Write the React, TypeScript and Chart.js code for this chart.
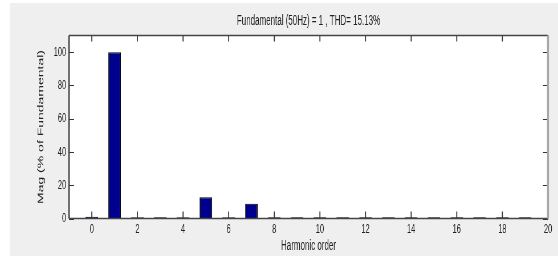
import React, { useEffect, useRef } from "react";
import { Chart, registerables } from "chart.js";

Chart.register(...registerables);

const harmonicOrders = [0, 1, 2, 3, 4, 5, 6, 7, 8, 9, 10, 11, 12, 13, 14, 15, 16, 17, 18, 19];
const magnitudes = [1.0, 100, 0.8, 0.7, 0.8, 12.8, 0.8, 8.8, 0.7, 0.7, 0.7, 0.7, 0.7, 0.7, 0.7, 0.7, 0.7, 0.7, 0.7, 0.7];
const xTickValues = [0, 2, 4, 6, 8, 10, 12, 14, 16, 18, 20];
const yTickValues = [0, 20, 40, 60, 80, 100];
const titleText = "Fundamental (50Hz) = 1 , THD= 15.13%";
const xTitle = "Harmonic order";
const yTitle = "Mag (% of Fundamental)";

// The reference picture is horizontally squeezed; draw wide and compress.
const SX = 0.57;
const W = 558;
const H = 256;
const IW = Math.round(W / SX);
const FONT = "'Liberation Sans', Arial, sans-serif";

const framePlugin = {
  id: "frame",
  beforeDraw(chart: any) {
    const { ctx, chartArea: a, width, height } = chart;
    ctx.save();
    ctx.fillStyle = "#ffffff";
    ctx.fillRect(0, 0, width, height);
    ctx.fillStyle = "#efefef";
    ctx.fillRect(10 / SX, 3, width - 10 / SX, height - 3);
    ctx.fillStyle = "#ffffff";
    ctx.fillRect(a.left, a.top, a.right - a.left, a.bottom - a.top);
    ctx.restore();
  },
  afterDraw(chart: any) {
    const { ctx, chartArea: a } = chart;
    const xs = chart.scales.x;
    const ys = chart.scales.y;
    ctx.save();
    ctx.strokeStyle = "#333333";
    // x ticks (vertical strokes)
    ctx.lineWidth = 1 / SX;
    ctx.beginPath();
    xTickValues.forEach((v) => {
      const px = xs.getPixelForValue(v);
      ctx.moveTo(px, a.bottom);
      ctx.lineTo(px, a.bottom - 7);
      ctx.moveTo(px, a.top);
      ctx.lineTo(px, a.top + 6);
    });
    ctx.stroke();
    // y ticks (horizontal strokes)
    ctx.lineWidth = 1.2;
    ctx.beginPath();
    yTickValues.forEach((v) => {
      const py = Math.round(ys.getPixelForValue(v)) + 0.5;
      ctx.moveTo(a.left, py);
      ctx.lineTo(a.left + 5 / SX, py);
      ctx.moveTo(a.right, py);
      ctx.lineTo(a.right - 5 / SX, py);
    });
    ctx.stroke();
    // frame
    ctx.strokeStyle = "#444444";
    ctx.lineWidth = 1.5;
    ctx.beginPath();
    ctx.moveTo(a.left, a.top);
    ctx.lineTo(a.right, a.top);
    ctx.moveTo(a.left, a.bottom);
    ctx.lineTo(a.right, a.bottom);
    ctx.stroke();
    ctx.lineWidth = 1.5 / SX;
    ctx.beginPath();
    ctx.moveTo(a.left, a.bottom);
    ctx.lineTo(a.left, a.top);
    ctx.stroke();
    ctx.strokeStyle = "#a8a8a8";
    ctx.lineWidth = 2 / SX;
    ctx.beginPath();
    ctx.moveTo(a.right, a.top);
    ctx.lineTo(a.right, a.bottom);
    ctx.stroke();
    // title
    ctx.fillStyle = "#222222";
    ctx.font = "14px " + FONT;
    ctx.textAlign = "center";
    ctx.textBaseline = "middle";
    ctx.fillText(titleText, (a.left + a.right) / 2, 21.5);
    ctx.restore();
  },
};

export default function App() {
  const ref = useRef<HTMLCanvasElement | null>(null);
  useEffect(() => {
    if (!ref.current) return;
    const chart = new Chart(ref.current, {
      type: "bar",
      data: {
        datasets: [
          {
            data: harmonicOrders.map((h, i) => ({ x: h, y: magnitudes[i] })),
            backgroundColor: "#00008f",
            borderColor: "#000000",
            borderWidth: { top: 1, left: 1 / SX, right: 1 / SX, bottom: 0 },
            borderSkipped: "start",
            barPercentage: 0.55,
            categoryPercentage: 1,
          },
        ],
      },
      options: {
        animation: false,
        responsive: false,
        devicePixelRatio: 1,
        layout: { padding: { left: 0, top: 35.5, right: IW - 548 / SX, bottom: 0 } },
        plugins: { legend: { display: false }, tooltip: { enabled: false }, title: { display: false } },
        scales: {
          x: {
            type: "linear",
            min: -1,
            max: 20,
            offset: false,
            grid: { display: false, drawTicks: false },
            border: { display: false },
            afterBuildTicks: (s: any) => {
              s.ticks = xTickValues.map((v) => ({ value: v }));
            },
            afterFit: (s: any) => {
              s.height = H - 218.5;
            },
            ticks: {
              color: "#222222",
              padding: 3,
              maxRotation: 0,
              autoSkip: false,
              font: { family: FONT, size: 13 },
            },
            title: {
              display: true,
              text: xTitle,
              color: "#222222",
              font: { family: FONT, size: 14 },
              padding: { top: 0, bottom: 1.6 },
            },
          },
          y: {
            type: "linear",
            min: 0,
            max: 110,
            grid: { display: false, drawTicks: false },
            border: { display: false },
            afterBuildTicks: (s: any) => {
              s.ticks = yTickValues.map((v) => ({ value: v }));
            },
            afterFit: (s: any) => {
              s.width = 69 / SX;
            },
            ticks: {
              color: "#222222",
              padding: 5,
              autoSkip: false,
              font: { family: FONT, size: 13 },
            },
            title: {
              display: true,
              text: yTitle,
              color: "#222222",
              font: { family: FONT, size: 14 },
              padding: { top: 41 / SX - 8.4, bottom: 0 },
            },
          },
        },
      },
      plugins: [framePlugin],
    });
    return () => chart.destroy();
  }, []);
  return (
    <div style={{ position: "absolute", left: 0, top: 0, width: W, height: H, overflow: "hidden" }}>
      <div style={{ width: IW, height: H, transform: `scaleX(${SX})`, transformOrigin: "0 0" }}>
        <canvas ref={ref} width={IW} height={H} />
      </div>
    </div>
  );
}
